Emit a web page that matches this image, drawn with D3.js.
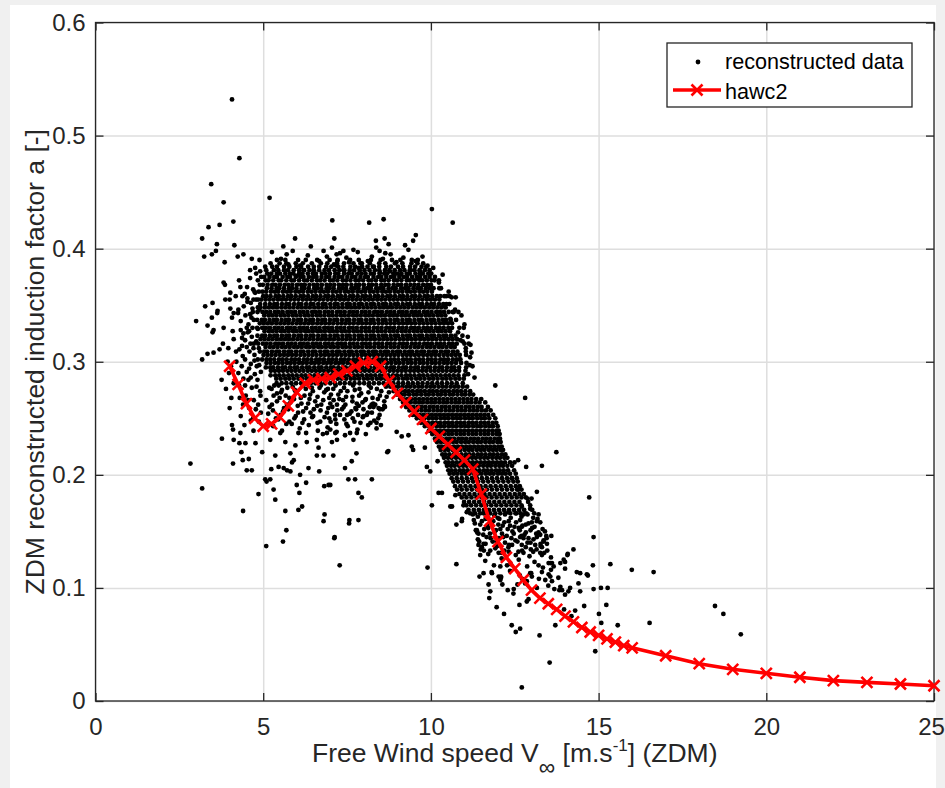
<!DOCTYPE html>
<html>
<head>
<meta charset="utf-8">
<script src="https://cdn.jsdelivr.net/npm/d3@7"></script>
<style>
  body { margin: 0; background: #f0f0f0; }
  svg { display: block; font-family: "Liberation Sans", Arial, sans-serif; }
</style>
</head>
<body>
<svg id="chart" width="945" height="788"></svg>
<script>
// ---- data ----
const xTicks = [0, 5, 10, 15, 20, 25];
const yTicks = [0, 0.1, 0.2, 0.3, 0.4, 0.5, 0.6];

// hawc2 curve
const hawcWind = [4, 4.25, 4.5, 4.75, 5, 5.25, 5.5, 5.75, 6, 6.25, 6.5, 6.75, 7, 7.25, 7.5, 7.75,
  8, 8.25, 8.5, 8.75, 9, 9.25, 9.5, 9.75, 10, 10.25, 10.5, 10.75, 11, 11.25, 11.5, 11.75,
  12, 12.25, 12.5, 12.75, 13, 13.25, 13.5, 13.75, 14, 14.25, 14.5, 14.75, 15, 15.25, 15.5, 15.75,
  16, 17, 18, 19, 20, 21, 22, 23, 24, 25];
const hawcInduction = [0.296, 0.280, 0.263, 0.250, 0.243, 0.245, 0.251, 0.261, 0.273, 0.281, 0.284, 0.285, 0.286, 0.289, 0.292, 0.296,
  0.299, 0.300, 0.296, 0.283, 0.272, 0.264, 0.256, 0.249, 0.241, 0.234, 0.227, 0.220, 0.213, 0.205, 0.183, 0.159,
  0.141, 0.127, 0.117, 0.107, 0.098, 0.091, 0.086, 0.081, 0.075, 0.070, 0.065, 0.061, 0.058, 0.055, 0.052, 0.049,
  0.047, 0.040, 0.033, 0.028, 0.0245, 0.021, 0.018, 0.0165, 0.015, 0.0135];

// reconstructed data, dense cloud: each row = [a x1000, V x100, V x100, ...]
const coreRows = [
  [390, 541,566,604,627,661,698,722,759,785,821,850,884,909,943,961],
  [387, 522,549,569,597,618,645,672,691,720,741,769,790,818,846,864,893,915,942,960,977],
  [384, 506,527,541,562,578,599,613,634,651,667,688,703,724,739,760,774,795,811,830,846,867,881,902,917,938,953,972,986],
  [381, 509,532,545,562,574,591,607,620,638,651,667,683,696,713,727,742,758,771,788,802,817,833,846,863,876,892,908,921,937,951,966,982,996],
  [378, 512,524,541,550,566,580,590,607,617,633,648,657,675,686,699,715,724,741,754,764,781,793,805,821,830,847,861,870,888,899,912,928,937,954,967,976,992,1001],
  [375, 494,503,519,533,541,558,572,580,597,611,620,636,649,659,674,688,697,713,726,736,751,765,775,790,804,812,829,843,852,867,881,891,906,919,929,944,958,968,983,996],
  [372, 507,516,530,546,554,569,584,592,607,622,631,645,660,670,683,699,708,721,737,747,760,775,785,798,814,823,836,852,861,874,890,899,912,928,937,950,966,975,988,1002,1011,1024],
  [368, 490,499,513,527,537,550,564,575,587,601,613,624,638,651,662,675,689,700,712,726,738,749,763,777,787,800,815,825,837,852,864,874,889,902,912,926,939,951,963,977,989,1000],
  [365, 511,525,540,548,562,577,586,599,615,623,636,652,661,673,689,698,710,726,736,747,763,773,784,800,811,821,837,848,858,874,886,895,911,923,933,948,960,970,985,997,1008,1025],
  [362, 474,487,498,509,523,535,545,559,571,582,596,607,619,633,644,656,670,681,693,707,718,730,744,755,767,781,792,804,818,829,841,855,866,878,892,903,915,929,940,952,966,977,989,1003],
  [358, 500,510,522,537,547,560,574,584,597,611,621,634,648,658,671,685,695,708,722,732,745,759,769,782,796,806,819,833,843,856,870,880,893,907,917,930,944,954,967,981,991,1004,1018,1028,1040,1056],
  [355, 471,485,494,507,519,531,544,556,568,581,593,605,618,630,642,655,667,679,692,704,716,729,741,753,766,778,790,803,815,827,840,852,864,877,889,901,914,926,938,951,963,975,988,1000,1012,1025],
  [351, 506,520,533,542,556,569,578,592,605,614,628,641,650,664,677,686,700,713,722,736,749,758,772,785,794,808,821,830,844,857,866,880,893,902,916,929,938,952,965,974,988,1001,1010,1024,1037,1046,1055],
  [348, 484,492,505,517,529,541,554,566,578,590,603,615,627,639,652,664,676,688,701,713,725,737,750,762,774,786,799,811,823,835,848,860,872,884,897,909,921,933,946,958,970,982,995,1007,1019,1031,1044],
  [344, 469,483,498,509,521,535,546,558,572,583,595,609,620,632,646,657,669,683,694,706,720,731,743,757,768,780,794,805,817,831,842,854,868,879,891,905,916,928,942,953,965,979,990,1002,1016,1027,1039,1053,1065,1082],
  [341, 503,516,527,539,552,563,575,588,599,611,624,635,647,660,671,683,696,707,719,732,743,755,768,779,791,804,815,827,840,851,863,876,887,899,912,923,935,948,959,971,984,995,1007,1020,1031,1043],
  [337, 482,496,505,519,532,541,555,568,577,591,604,613,627,640,649,663,676,685,699,712,721,735,748,757,771,784,793,807,820,829,843,856,865,879,892,901,915,928,937,951,964,973,987,1000,1009,1023,1036,1045,1059,1075],
  [334, 490,502,514,526,539,551,563,575,587,600,612,624,636,648,661,673,685,697,709,722,734,746,758,770,783,795,807,819,831,844,856,868,880,892,905,917,929,941,953,966,978,990,1002,1014,1027,1039,1051,1063],
  [330, 468,482,497,508,520,534,545,557,571,582,594,608,619,631,645,656,668,682,693,705,719,730,742,756,767,779,793,804,816,830,841,853,867,878,890,904,915,927,941,952,964,978,989,1001,1015,1026,1038,1052,1063,1085,1098],
  [327, 504,517,528,540,553,564,576,589,600,612,625,636,648,661,672,684,697,708,720,733,744,756,769,780,792,805,816,828,841,852,864,877,888,900,913,924,936,949,960,972,985,996,1008,1021,1032,1044,1057],
  [323, 483,497,506,520,533,542,556,569,578,592,605,614,628,641,650,664,677,686,700,713,722,736,749,758,772,785,794,808,821,830,844,857,866,880,893,902,916,929,938,952,965,974,988,1001,1010,1024,1037,1046,1060,1073,1094],
  [320, 492,504,516,528,541,553,565,577,589,602,614,626,638,650,663,675,687,699,711,724,736,748,760,772,785,797,809,821,833,846,858,870,882,894,907,919,931,943,955,968,980,992,1004,1016,1029,1041,1053,1065,1078],
  [316, 472,485,499,510,522,536,547,559,573,584,596,610,621,633,647,658,670,684,695,707,721,732,744,758,769,781,795,806,818,832,843,855,869,880,892,906,917,929,943,954,966,980,991,1003,1017,1028,1040,1054,1065,1077,1100,1113],
  [313, 507,520,531,543,556,567,579,592,603,615,628,639,651,664,675,687,700,711,723,736,747,759,772,783,795,808,819,831,844,855,867,880,891,903,916,927,939,952,963,975,988,999,1011,1024,1035,1047,1060,1071],
  [309, 490,503,512,526,539,548,562,575,584,598,611,620,634,647,656,670,683,692,706,719,728,742,755,764,778,791,800,814,827,836,850,863,872,886,899,908,922,935,944,958,971,980,994,1007,1016,1030,1043,1052,1066,1079,1104],
  [306, 501,513,525,537,550,562,574,586,598,611,623,635,647,659,672,684,696,708,720,733,745,757,769,781,794,806,818,830,842,855,867,879,891,903,916,928,940,952,964,977,989,1001,1013,1025,1038,1050,1062,1074,1086,1105],
  [302, 484,497,510,521,533,547,558,570,584,595,607,621,632,644,658,669,681,695,706,718,732,743,755,769,780,792,806,817,829,843,854,866,880,891,903,917,928,940,954,965,977,991,1002,1014,1028,1039,1051,1065,1076,1088],
  [299, 510,522,535,546,558,571,582,594,607,618,630,643,654,666,679,690,702,715,726,738,751,762,774,787,798,810,823,834,846,859,870,882,895,906,918,931,942,954,967,978,990,1003,1014,1026,1039,1050,1062,1075,1090,1106],
  [295, 508,521,530,544,557,566,580,593,602,616,629,638,652,665,674,688,701,710,724,737,746,760,773,782,796,809,818,832,845,854,868,881,890,904,917,926,940,953,962,976,989,998,1012,1025,1034,1048,1061,1070,1084,1105],
  [292, 523,535,547,559,572,584,596,608,620,633,645,657,669,681,694,706,718,730,742,755,767,779,791,803,816,828,840,852,864,877,889,901,913,925,938,950,962,974,986,999,1011,1023,1035,1047,1060,1072,1084,1103],
  [288, 522,536,548,561,575,587,600,614,626,639,653,665,678,692,704,717,731,743,756,770,782,795,809,821,834,848,860,873,887,899,912,926,938,951,965,977,990,1004,1016,1029,1043,1055,1068,1082,1100],
  [285, 539,552,566,578,591,605,617,630,644,656,669,683,695,708,722,734,747,761,773,786,800,812,825,839,851,864,878,890,903,917,929,942,956,968,981,995,1007,1020,1034,1046,1059,1073,1085,1098],
  [281, 540,555,569,584,598,613,627,642,656,671,685,700,714,729,743,758,772,787,801,816,830,845,859,874,888,903,917,932,946,961,975,990,1004,1019,1033,1048,1062,1077,1095]
];

// descending arm above rated speed (dense part)
const armRows = [
  [278, 879,891,902,915,927,938,951,963,974,987,999,1010,1023,1035,1046,1059,1071,1082,1095,1108],
  [274, 889,898,910,923,934,946,959,970,982,995,1006,1018,1031,1042,1054,1067,1078,1090,1103,1117],
  [271, 899,912,922,935,948,958,971,984,994,1007,1020,1030,1043,1056,1066,1079,1092,1102,1115,1126],
  [267, 908,917,929,941,953,965,977,989,1001,1013,1025,1037,1049,1061,1073,1085,1097,1109,1121,1135,1150],
  [264, 917,929,940,953,965,976,989,1001,1012,1025,1037,1048,1061,1073,1084,1097,1109,1120,1133,1145,1162],
  [260, 926,935,947,960,971,983,996,1007,1019,1032,1043,1055,1068,1079,1091,1104,1115,1127,1140,1151,1170],
  [257, 936,948,959,972,984,995,1008,1020,1031,1044,1056,1067,1080,1092,1103,1116,1128,1139,1152,1164,1178],
  [253, 946,955,967,979,991,1003,1015,1027,1039,1051,1063,1075,1087,1099,1111,1123,1135,1147,1159,1171,1186],
  [250, 958,970,981,994,1006,1017,1030,1042,1053,1066,1078,1089,1102,1114,1125,1138,1150,1161,1174,1192],
  [246, 970,979,991,1004,1015,1027,1040,1051,1063,1076,1087,1099,1112,1123,1135,1148,1159,1171,1184,1195],
  [243, 982,994,1005,1018,1030,1041,1054,1066,1077,1090,1102,1113,1126,1138,1149,1162,1174,1185,1199],
  [239, 994,1003,1015,1027,1039,1051,1063,1075,1087,1099,1111,1123,1135,1147,1159,1171,1183,1195,1202],
  [236, 1004,1016,1027,1040,1052,1063,1076,1088,1099,1112,1124,1135,1148,1160,1171,1184,1196,1205],
  [232, 1012,1021,1033,1046,1057,1069,1082,1093,1105,1118,1129,1141,1154,1165,1177,1190,1201,1206],
  [229, 1018,1030,1041,1054,1066,1077,1090,1102,1113,1126,1138,1149,1162,1174,1185,1198,1208],
  [225, 1024,1033,1045,1057,1069,1081,1093,1105,1117,1129,1141,1153,1165,1177,1189,1201,1211],
  [222, 1029,1041,1052,1065,1077,1088,1101,1113,1124,1137,1149,1160,1173,1185,1196,1208,1215],
  [218, 1034,1043,1055,1068,1079,1091,1104,1115,1127,1140,1151,1163,1176,1187,1199,1212,1222],
  [215, 1039,1051,1062,1075,1087,1098,1111,1123,1134,1147,1159,1170,1183,1195,1206,1219,1228],
  [211, 1044,1053,1065,1077,1089,1101,1113,1125,1137,1149,1161,1173,1185,1197,1209,1221,1236],
  [208, 1048,1060,1071,1084,1096,1107,1120,1132,1143,1156,1168,1179,1192,1204,1215,1228,1242],
  [204, 1052,1061,1073,1086,1097,1109,1122,1133,1145,1158,1169,1181,1194,1205,1217,1230,1248],
  [201, 1056,1068,1079,1092,1104,1115,1128,1140,1151,1164,1176,1187,1200,1212,1223,1236,1253],
  [197, 1062,1077,1092,1107,1122,1137,1152,1167,1182,1197,1212,1227,1242,1256],
  [194, 1067,1081,1096,1111,1126,1141,1156,1171,1186,1201,1216,1231,1246,1259],
  [190, 1072,1088,1103,1118,1133,1148,1163,1178,1193,1208,1223,1238,1253,1265],
  [187, 1078,1092,1107,1122,1137,1152,1167,1182,1197,1212,1227,1242,1257,1270],
  [183, 1085,1100,1115,1130,1145,1160,1175,1190,1205,1220,1235,1250,1264,1277],
  [180, 1092,1106,1121,1136,1151,1166,1181,1196,1211,1226,1241,1256,1270,1283],
  [176, 1099,1114,1129,1144,1159,1174,1189,1204,1219,1234,1249,1264,1290],
  [173, 1106,1120,1135,1150,1165,1180,1195,1210,1225,1240,1255,1270,1296],
  [169, 1112,1128,1143,1158,1173,1188,1203,1218,1233,1248,1263,1278,1302],
  [166, 1117,1132,1147,1162,1177,1192,1207,1222,1237,1252,1267,1284,1308]
];

// medium-density points: pairs V x100, a x1000
const lowerDots = [
  518,277, 541,272, 533,279, 556,275, 567,270, 588,278, 598,273, 612,268, 627,276, 640,271, 655,265, 668,277,
  682,273, 697,268, 709,276, 724,271, 738,266, 751,274, 766,269, 779,263, 792,272, 806,267, 821,277, 834,262,
  848,270, 861,265, 875,273, 509,266, 526,262, 549,268, 562,259, 581,264, 603,261, 619,256, 634,263, 651,258,
  673,262, 690,255, 706,260, 721,257, 745,262, 758,254, 777,258, 796,264, 812,255, 829,260, 847,253, 856,258,
  515,254, 538,250, 559,256, 578,247, 597,252, 622,249, 641,255, 662,246, 683,251, 701,247, 729,253, 748,245,
  767,250, 790,246, 809,253, 831,248, 851,244, 530,243, 556,239, 585,245, 609,241, 636,244, 663,239, 692,242,
  719,238, 752,243, 781,240, 806,236, 838,241,
  525,276, 546,279, 572,277, 594,275, 619,279, 645,277, 672,279, 693,276, 716,279, 741,277, 768,279, 787,276,
  815,279, 839,276, 866,278, 531,270, 553,273, 578,268, 601,274, 623,270, 648,274, 662,269, 688,275, 702,271,
  731,274, 747,269, 773,275, 786,270, 814,273, 826,268, 852,274, 868,269, 519,260, 541,265, 571,262, 592,267,
  614,263, 638,267, 661,261, 679,266, 700,263, 727,267, 740,260, 766,265, 785,261, 804,266, 823,262, 842,267,
  861,261, 529,257, 552,253, 575,258, 604,255, 628,259, 649,252, 671,257, 694,259, 714,253, 735,258, 763,256,
  783,253, 799,258, 824,255, 844,259, 545,249, 569,245, 593,250, 617,246, 646,251, 670,247, 697,250, 718,245,
  742,249, 772,247, 797,251, 820,246, 843,250,
  1125,165, 1140,163, 1157,166, 1171,162, 1189,164, 1204,161, 1221,165, 1238,162, 1255,166, 1270,163, 1288,165,
  1305,162, 1131,157, 1152,159, 1168,155, 1186,159, 1201,156, 1219,158, 1236,155, 1254,158, 1273,155, 1291,157,
  1309,154, 1326,158, 1138,149, 1159,152, 1176,148, 1194,151, 1212,148, 1229,152, 1247,148, 1265,151, 1283,149,
  1302,153, 1321,149, 1340,150, 1144,141, 1166,145, 1184,141, 1203,144, 1221,140, 1240,144, 1258,141, 1276,144,
  1297,140, 1316,145, 1336,142, 1152,136, 1177,133, 1198,137, 1219,133, 1242,138, 1261,132, 1283,136, 1305,132,
  1327,137, 1347,133,
  1128,160, 1147,156, 1163,161, 1181,157, 1199,162, 1214,155, 1232,159, 1249,154, 1266,160, 1283,156, 1301,158,
  1318,161, 1134,151, 1156,147, 1171,153, 1189,149, 1207,152, 1226,146, 1243,150, 1262,153, 1279,147, 1297,151,
  1314,148, 1333,152, 1140,143, 1163,139, 1178,144, 1196,141, 1216,145, 1233,138, 1252,142, 1270,146, 1288,140,
  1306,143, 1327,139, 1345,144, 1149,134, 1171,130, 1192,135, 1210,131, 1231,136, 1253,129, 1272,133, 1294,128,
  1315,134, 1338,131, 1358,127, 1162,124, 1188,120, 1211,126, 1238,121, 1262,125, 1287,119, 1309,123, 1334,118,
  1361,122, 1181,114, 1209,109, 1236,115, 1265,111, 1296,113, 1322,108, 1351,112, 1380,109, 1213,103, 1247,99,
  1281,104, 1316,100, 1350,102, 1391,98
];

// single scattered points: pairs V x100, a x1000
const looseDots = [
  407,532, 429,480, 345,457, 382,441, 519,445, 337,419, 370,421, 411,424, 706,425, 318,409, 595,409, 712,409,
  362,404, 414,403, 359,398, 347,395, 324,393, 441,395, 424,393, 385,388, 461,381, 479,378, 491,380, 461,374,
  428,372, 382,370, 386,368, 402,361, 387,355, 400,355, 453,356, 453,353, 479,355, 491,351, 349,352, 327,349,
  364,345, 363,343, 347,339, 300,336, 402,347, 412,343, 426,346, 407,339, 461,342, 465,339, 382,330, 352,328,
  349,326, 334,332, 412,320, 446,319, 451,330, 454,326, 437,314, 380,316, 370,311, 352,308, 334,307, 318,302,
  439,305, 471,312, 474,306, 481,296, 493,291, 451,291, 456,284, 483,284, 466,277, 491,274,
  432,366, 445,360, 470,364, 442,349, 468,347, 433,336, 456,333, 441,325, 466,322, 479,318, 429,311, 459,309,
  446,302, 436,296, 463,298, 475,289, 441,285, 428,279, 448,270, 472,266, 458,259, 485,262, 440,262, 493,255,
  470,250, 398,290, 412,281, 389,276, 405,268, 376,284, 420,300, 396,312,
  438,358, 452,366, 463,352, 476,361, 488,346, 447,341, 472,337, 484,329, 458,327, 437,321, 462,316, 487,312,
  451,313, 474,301, 458,294, 488,297, 446,279, 463,286, 480,278, 492,270, 455,266, 478,258, 433,252, 463,248,
  487,247, 444,244, 471,239, 426,290, 419,309, 433,328, 425,343, 418,358, 409,327, 394,300, 404,296, 430,268,
  484,372, 476,383, 466,391, 489,390,
  570,395, 575,386, 610,385, 600,376, 622,381, 650,381, 680,398, 690,393, 711,386, 719,395, 560,402, 642,402,
  739,398, 769,399, 729,396, 837,401, 847,398, 864,396, 721,389, 718,385, 756,388, 794,387, 824,393, 857,391,
  827,384, 784,383, 739,381, 848,379, 878,380, 940,381, 968,380, 1007,383, 1035,377, 908,377, 962,373,
  862,409, 874,404, 923,403, 947,407, 955,412, 816,423, 859,426, 1003,435, 1065,423,
  526,397, 553,391, 588,398, 633,394, 667,389, 705,401, 748,392, 782,397, 812,389, 836,407, 880,395, 897,388,
  918,392, 933,399, 954,389, 975,393, 990,385, 1012,375, 1024,370,
  1030,365, 1046,358, 1074,357, 1068,344, 1100,333, 1088,319, 1104,312, 1121,308, 1116,297, 1111,289,
  1040,349, 1058,338, 1072,346, 1081,326, 1095,318, 1110,322, 1118,315, 1091,341, 1053,362, 1062,357,
  1085,302, 1117,304, 1124,296, 1130,286,
  400,259, 407,244, 410,240, 377,232, 412,231, 432,237, 429,228, 447,228, 435,220, 477,228, 497,220, 521,231,
  551,237, 536,217, 566,229, 596,226, 581,219, 591,213, 605,237, 628,237, 630,229, 660,231, 678,236, 690,237,
  715,237, 720,231, 705,229, 665,224, 680,217, 709,217, 660,217, 283,210, 410,210, 439,213, 457,214, 451,204,
  466,204, 524,205, 546,207, 561,206, 571,204, 581,203, 586,211, 610,200, 635,206, 667,203, 506,196, 510,194,
  521,196, 318,188, 486,183, 531,187, 600,191, 628,193, 682,190, 695,191, 608,184, 536,178, 440,168, 566,168,
  605,169, 616,172, 683,165, 680,159, 569,151, 713,145, 559,141, 509,137, 728,120,
  764,212, 744,206, 778,219, 870,220, 754,196, 774,196, 824,196, 784,184, 794,180, 700,191, 757,160, 756,157,
  784,160, 712,144, 990,118, 1076,121, 1145,110, 1003,173, 1023,184, 988,207, 998,203, 1020,212, 1058,172,
  1076,156, 1092,159, 1137,151, 1142,148, 1157,139, 1158,133, 1142,138,
  710,266, 720,262, 715,249, 750,253, 775,259, 799,252, 818,260, 828,263, 848,258, 863,260, 838,246, 813,244,
  759,237, 779,237, 769,231, 744,235, 700,240, 898,238, 913,234, 933,235, 943,225, 947,222, 982,224, 873,221,
  1192,279, 1281,268, 1374,220, 1249,211, 1260,213, 1284,207, 1331,208, 1241,197, 1316,185, 1288,179, 1472,180,
  1296,170, 1271,172, 1261,187, 1300,179, 1276,165, 1231,167, 1321,165, 1316,159, 1271,154, 1326,147, 1344,146,
  1359,146, 1346,139, 1331,136, 1298,134, 1326,131, 1408,130, 1425,134, 1400,123, 1356,122, 1366,119, 1331,114,
  1299,113, 1435,114, 1465,112, 1483,120, 1485,145, 1182,113, 1209,110, 1227,120, 1093,161, 1063,172,
  1107,167, 1097,173, 1033,184, 1073,182, 1311,138, 1336,141, 1291,144, 1271,138, 1266,145, 1276,131, 1331,129,
  1321,120, 1351,122, 1358,116, 1356,110, 1341,107, 1361,106, 1386,122, 1396,125, 1400,117, 1407,129, 1445,113,
  1440,104, 1468,111, 1485,99, 1507,100, 1527,100, 1535,121, 1599,116, 1664,114, 1415,100, 1410,97, 1386,101,
  1383,98, 1400,94, 1445,97, 1457,84, 1430,80, 1397,81, 1419,75, 1523,85, 1501,77, 1508,69, 1557,67, 1652,69,
  1847,84, 1872,77, 1924,59, 1371,67, 1324,58, 1241,67, 1253,61, 1266,64, 1218,77, 1196,83, 1174,91, 1490,44,
  1354,34, 1271,12, 1264,85, 1286,88, 1291,90, 1246,95, 1258,103, 1286,106, 1272,108, 1301,110, 1229,98,
  1207,107, 1202,110, 1177,97, 1172,103, 1207,119, 1157,113, 1232,132, 1202,131, 1147,129, 1368,99
];

// ---- build point list ----
const scatter = [];
[coreRows, armRows].forEach(rows => rows.forEach(r => {
  r.slice(1).forEach(v => scatter.push([v / 100, r[0] / 1000]));
}));
[lowerDots, looseDots].forEach(list => {
  for (let i = 0; i < list.length; i += 2) scatter.push([list[i] / 100, list[i + 1] / 1000]);
});
const hawc = hawcWind.map((v, i) => [v, hawcInduction[i]]);

// ---- chart ----
const svg = d3.select("#chart");
svg.append("rect").attr("x", 10).attr("y", 5).attr("width", 926).attr("height", 783).attr("fill", "#fff");

const x = d3.scaleLinear().domain([0, 25]).range([95.5, 934]);
const y = d3.scaleLinear().domain([0, 0.6]).range([701, 22.5]);
const axisColor = "#262626";
const dotR = 2.4;

// grid
svg.append("g")
  .attr("transform", `translate(0,${y(0)})`)
  .call(d3.axisBottom(x).tickValues(xTicks).tickSize(-(y(0) - y(0.6))).tickFormat(""))
  .call(g => g.select(".domain").remove())
  .call(g => g.selectAll("line").attr("stroke", "#dedede").attr("stroke-width", 1.5));
svg.append("g")
  .attr("transform", `translate(${x(0)},0)`)
  .call(d3.axisLeft(y).tickValues(yTicks).tickSize(-(x(25) - x(0))).tickFormat(""))
  .call(g => g.select(".domain").remove())
  .call(g => g.selectAll("line").attr("stroke", "#dedede").attr("stroke-width", 1.5));

// axes with inward ticks
function styleAxis(g) {
  g.select(".domain").remove();
  g.selectAll("line").attr("stroke", axisColor).attr("stroke-width", 1.3);
  g.selectAll("text").attr("fill", axisColor).style("font-size", "24px")
    .style("font-family", '"Liberation Sans", Arial, sans-serif');
}
svg.append("g").attr("transform", `translate(0,${y(0)})`)
  .call(d3.axisBottom(x).tickValues(xTicks).tickSizeInner(-8).tickSizeOuter(0).tickPadding(17).tickFormat(d => String(d)))
  .call(styleAxis)
  .call(g => g.selectAll("text").filter(d => d === 25).attr("dx", -3));
svg.append("g").attr("transform", `translate(${x(0)},0)`)
  .call(d3.axisLeft(y).tickValues(yTicks).tickSizeInner(-8).tickSizeOuter(0).tickPadding(10).tickFormat(d => String(d)))
  .call(styleAxis);
svg.append("g").attr("transform", `translate(0,${y(0.6)})`)
  .call(d3.axisTop(x).tickValues(xTicks).tickSizeInner(-8).tickSizeOuter(0).tickFormat(""))
  .call(styleAxis);
svg.append("g").attr("transform", `translate(${x(25)},0)`)
  .call(d3.axisRight(y).tickValues(yTicks).tickSizeInner(-8).tickSizeOuter(0).tickFormat(""))
  .call(styleAxis);
svg.append("rect")
  .attr("x", x(0)).attr("y", y(0.6))
  .attr("width", x(25) - x(0)).attr("height", y(0) - y(0.6))
  .attr("fill", "none").attr("stroke", axisColor).attr("stroke-width", 1.3);

// scatter
svg.append("g").selectAll("circle")
  .data(scatter)
  .join("circle")
  .attr("cx", d => x(d[0]))
  .attr("cy", d => y(d[1]))
  .attr("r", dotR)
  .attr("fill", "#000");

// hawc2 line + x markers
const crossPath = (cx, cy, s) => `M${cx - s},${cy - s}L${cx + s},${cy + s}M${cx - s},${cy + s}L${cx + s},${cy - s}`;
svg.append("path")
  .datum(hawc)
  .attr("d", d3.line().x(d => x(d[0])).y(d => y(d[1])))
  .attr("fill", "none").attr("stroke", "#ff0000").attr("stroke-width", 3.6)
  .attr("stroke-linejoin", "round");
svg.append("g").selectAll("path")
  .data(hawc)
  .join("path")
  .attr("d", d => crossPath(x(d[0]), y(d[1]), 5.5))
  .attr("stroke", "#ff0000").attr("stroke-width", 2.6).attr("fill", "none");

// axis labels
const xLabel = svg.append("text")
  .attr("x", (x(0) + x(25)) / 2).attr("y", 762)
  .attr("text-anchor", "middle").attr("fill", axisColor)
  .style("font-size", "26.5px");
xLabel.append("tspan").text("Free Wind speed V");
xLabel.append("tspan").attr("dy", 13).style("font-size", "23px").text("\u221E");
xLabel.append("tspan").attr("dy", -13).text(" [m.s");
xLabel.append("tspan").attr("dy", -11).style("font-size", "17px").text("-1");
xLabel.append("tspan").attr("dy", 11).text("] (ZDM)");

svg.append("text")
  .attr("transform", `translate(44,${(y(0) + y(0.6)) / 2}) rotate(-90)`)
  .attr("text-anchor", "middle").attr("fill", axisColor)
  .style("font-size", "26.5px")
  .text("ZDM reconstructed induction factor a [-]");

// legend
const lg = svg.append("g");
lg.append("rect").attr("x", 667).attr("y", 43).attr("width", 245).attr("height", 64)
  .attr("fill", "#fff").attr("stroke", axisColor).attr("stroke-width", 1.3);
lg.append("circle").attr("cx", 698).attr("cy", 62).attr("r", dotR).attr("fill", "#000");
lg.append("text").attr("x", 725).attr("y", 69).attr("fill", "#000")
  .style("font-size", "21.6px").text("reconstructed data");
lg.append("line").attr("x1", 673).attr("x2", 721).attr("y1", 90).attr("y2", 90)
  .attr("stroke", "#ff0000").attr("stroke-width", 3.6);
lg.append("path").attr("d", crossPath(697, 90, 5.5))
  .attr("stroke", "#ff0000").attr("stroke-width", 2.6).attr("fill", "none");
lg.append("text").attr("x", 725).attr("y", 99).attr("fill", "#000")
  .style("font-size", "21.6px").text("hawc2");
</script>
</body>
</html>
